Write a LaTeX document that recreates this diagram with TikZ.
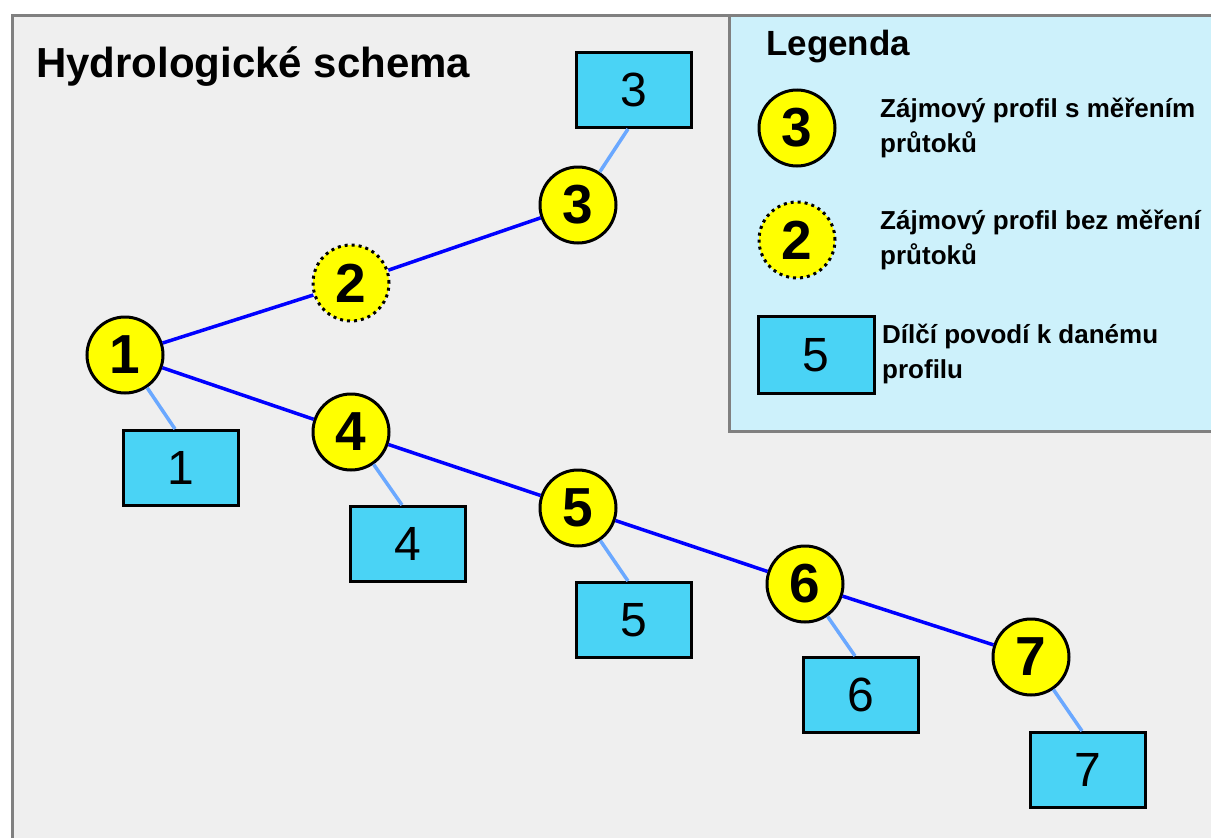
\documentclass[tikz,border=0pt]{standalone}
\usepackage{fontspec}
\setmainfont{Liberation Sans}
\usetikzlibrary{shapes.geometric}

\definecolor{paper}{RGB}{239,239,239}
\definecolor{frameline}{RGB}{128,128,128}
\definecolor{legendbg}{RGB}{205,241,251}
\definecolor{basinfill}{RGB}{74,211,245}
\definecolor{profyellow}{RGB}{255,255,0}
\definecolor{tributary}{RGB}{106,168,255}

\begin{document}
\begin{tikzpicture}[x=1pt,y=-1pt]
\tikzstyle{profile} = [circle, draw=black, line width=3pt, fill=profyellow,
minimum size=76pt, inner sep=0pt, font=\fontsize{55}{55}\selectfont\bfseries]
\tikzstyle{profile_nm} = [profile, dash pattern=on 3pt off 4pt]
\tikzstyle{basin} = [rectangle, draw=black, line width=3pt, fill=basinfill,
minimum width=115pt, minimum height=75pt, inner sep=0pt,
font=\fontsize{48}{48}\selectfont]
\tikzstyle{river} = [draw=blue, line width=3.5pt]
\tikzstyle{link} = [draw=tributary, line width=3.5pt]
\tikzstyle{legtext} = [anchor=west, align=left, inner sep=0pt,
font=\fontsize{26}{35}\selectfont\bfseries]

\useasboundingbox (0,0) rectangle (1211,838);
\clip (0,0) rectangle (1211,838);
\fill[white] (0,0) rectangle (1211,838);

% frame and legend panel
\draw[frameline, line width=3pt, fill=paper] (12,15) rectangle (1240,860);
\draw[frameline, line width=3pt, fill=legendbg] (729,15) rectangle (1240,431);

\node[anchor=base west, inner sep=0pt, font=\fontsize{42}{42}\selectfont\bfseries]
  (title) at (36,77) {Hydrologické schema};
\node[anchor=base west, inner sep=0pt, font=\fontsize{35}{35}\selectfont\bfseries]
  (legtitle) at (766,55) {Legenda};

% profiles
\node [profile] (p1) at (125,355) {1};
\node [profile_nm] (p2) at (351,283) {2};
\node [profile] (p3) at (578,205) {3};
\node [profile] (p4) at (351,432) {4};
\node [profile] (p5) at (578,508) {5};
\node [profile] (p6) at (805,584) {6};
\node [profile] (p7) at (1031,657) {7};

% sub-basins
\node [basin] (b1) at (181,468) {1};
\node [basin] (b3) at (634,90) {3};
\node [basin] (b4) at (408,544) {4};
\node [basin] (b5) at (634,620) {5};
\node [basin] (b6) at (861,695) {6};
\node [basin] (b7) at (1088,770) {7};

\coordinate (t1) at ([xshift=-6pt]b1.north);
\coordinate (t3) at ([xshift=-6pt]b3.south);
\coordinate (t4) at ([xshift=-6pt]b4.north);
\coordinate (t5) at ([xshift=-6pt]b5.north);
\coordinate (t6) at ([xshift=-6pt]b6.north);
\coordinate (t7) at ([xshift=-6pt]b7.north);

% river network
\path [river] (p1) -- (p2);
\path [river] (p2) -- (p3);
\path [river] (p1) -- (p4);
\path [river] (p4) -- (p5);
\path [river] (p5) -- (p6);
\path [river] (p6) -- (p7);

\path [link] (p1) -- (t1);
\path [link] (p3) -- (t3);
\path [link] (p4) -- (t4);
\path [link] (p5) -- (t5);
\path [link] (p6) -- (t6);
\path [link] (p7) -- (t7);

% legend
\node [profile] (leg3) at (797,128) {3};
\node [profile_nm] (leg2) at (797,240) {2};
\node [basin, minimum width=116pt, minimum height=77pt] (leg5) at (816,355) {5};
\node [legtext] (txt3) at (880,128) {Zájmový profil s měřením\\průtoků};
\node [legtext] (txt2) at (880,240) {Zájmový profil bez měření\\průtoků};
\node [legtext] (txt5) at (882,354) {Dílčí povodí k danému\\profilu};

\end{tikzpicture}
\end{document}
